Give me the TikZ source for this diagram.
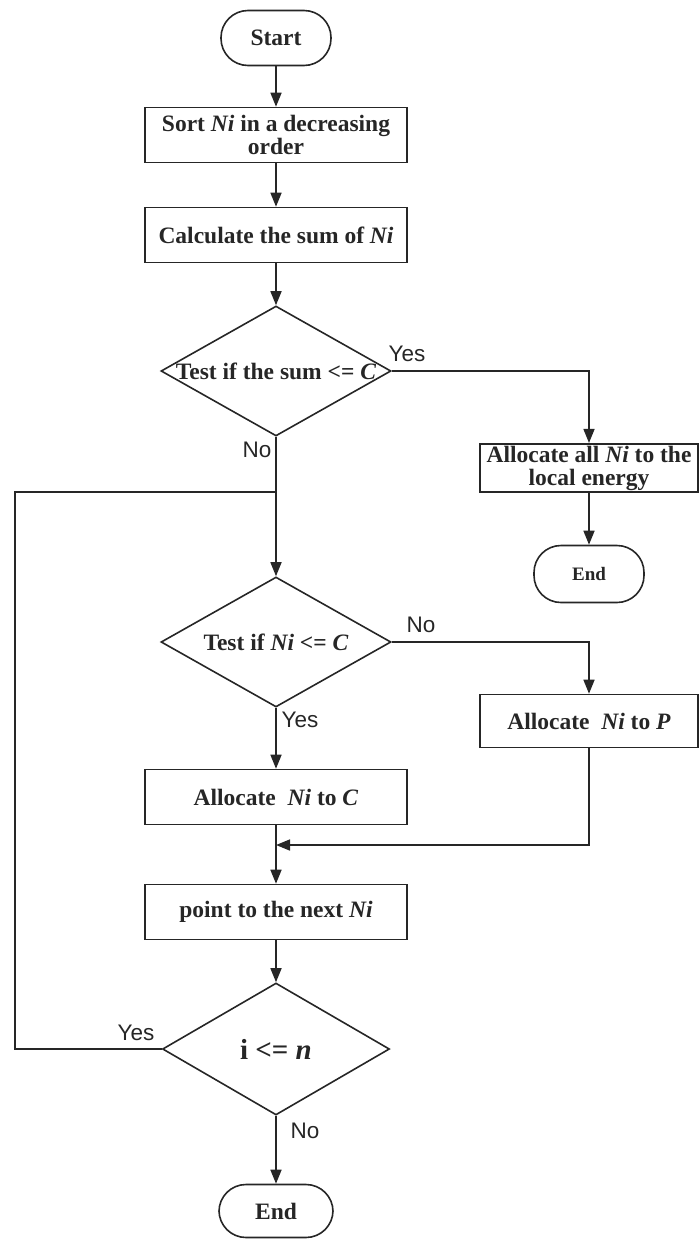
\documentclass[tikz,border=0pt]{standalone}
\usepackage{fontspec}
\setmainfont{Liberation Serif}
\newfontfamily\labelfont{Liberation Sans}
\usetikzlibrary{shapes.geometric,arrows.meta}

\begin{document}
\begin{tikzpicture}[x=1pt, y=-1pt, line width=1.6pt, color=black!85,
  every node/.style={font=\fontsize{23.5}{23}\selectfont\bfseries},
  box/.style={draw, rectangle, minimum width=262pt, minimum height=55pt, align=center, inner sep=2pt},
  term/.style={draw, rectangle, rounded corners=27pt, minimum width=110pt, minimum height=55pt},
  decision/.style={draw, diamond, minimum width=230pt, minimum height=130pt, inner sep=0pt},
  yn/.style={font=\fontsize{22.5}{22}\selectfont\labelfont},
  arr/.style={-{Triangle[length=14pt,width=11pt]}}]
\useasboundingbox (0,0) rectangle (699,1240);
% main column
\node[term] (start) at (276,38) {Start};
\node[box] (sort) at (276,135) {Sort \textit{Ni} in a decreasing\\order};
\node[box] (calc) at (276,235) {Calculate the sum of \textit{Ni}};
\node[decision] (d1) at (276,371) {\makebox[0pt]{Test if the sum <= \textit{C}}};
\node[decision] (d2) at (276,642) {\makebox[0pt]{Test if \textit{Ni} <= \textit{C}}};
\node[box] (allc) at (276,797) {Allocate\ \ \textit{Ni} to \textit{C}};
\node[box] (point) at (276,912) {point to the next \textit{Ni}};
\node[decision, minimum width=227pt, minimum height=132pt] (d3) at (276,1049) {\makebox[0pt]{\fontsize{29}{29}\selectfont i <= \textit{n}}};
\node[term, minimum width=114pt, minimum height=53pt] (end2) at (276,1211) {End};
% right column
\node[box, minimum width=218pt, minimum height=47pt] (allall) at (589,468) {Allocate all \textit{Ni} to the\\local energy};
\node[term, font=\fontsize{19}{19}\selectfont\bfseries, minimum height=57pt] (end1) at (589,574) {End};
\node[box, minimum width=218pt, minimum height=53pt] (allp) at (589,721) {Allocate\ \ \textit{Ni} to \textit{P}};
% labels
\node[yn] (y1) at (407,354) {Yes};
\node[yn] (n1) at (257,450) {No};
\node[yn] (n2) at (421,625) {No};
\node[yn] (y2) at (300,720) {Yes};
\node[yn] (y3) at (136,1033) {Yes};
\node[yn] (n3) at (305,1131) {No};
% bends and joins
\coordinate (j1) at (276,492);
\coordinate (j2) at (276,845);
\coordinate (c1) at (15,1049);
\coordinate (c2) at (15,492);
% connectors
\draw[arr] (start) -- (sort);
\draw[arr] (sort) -- (calc);
\draw[arr] (calc) -- (d1);
\draw[arr] (d1.east) -| (allall.north);
\draw[arr] (allall) -- (end1);
\draw (d1.south) -- (j1);
\draw[arr] (j1) -- (d2.north);
\draw[arr] (d2.east) -| (allp.north);
\draw[arr] (d2.south) -- (allc);
\draw[arr] (allc) -- (point);
\draw[arr] (allp.south) |- (j2);
\draw[arr] (point) -- (d3);
\draw (d3.west) -- (c1) -- (c2) -- (j1);
\draw[arr] (d3.south) -- (end2);
\end{tikzpicture}
\end{document}
